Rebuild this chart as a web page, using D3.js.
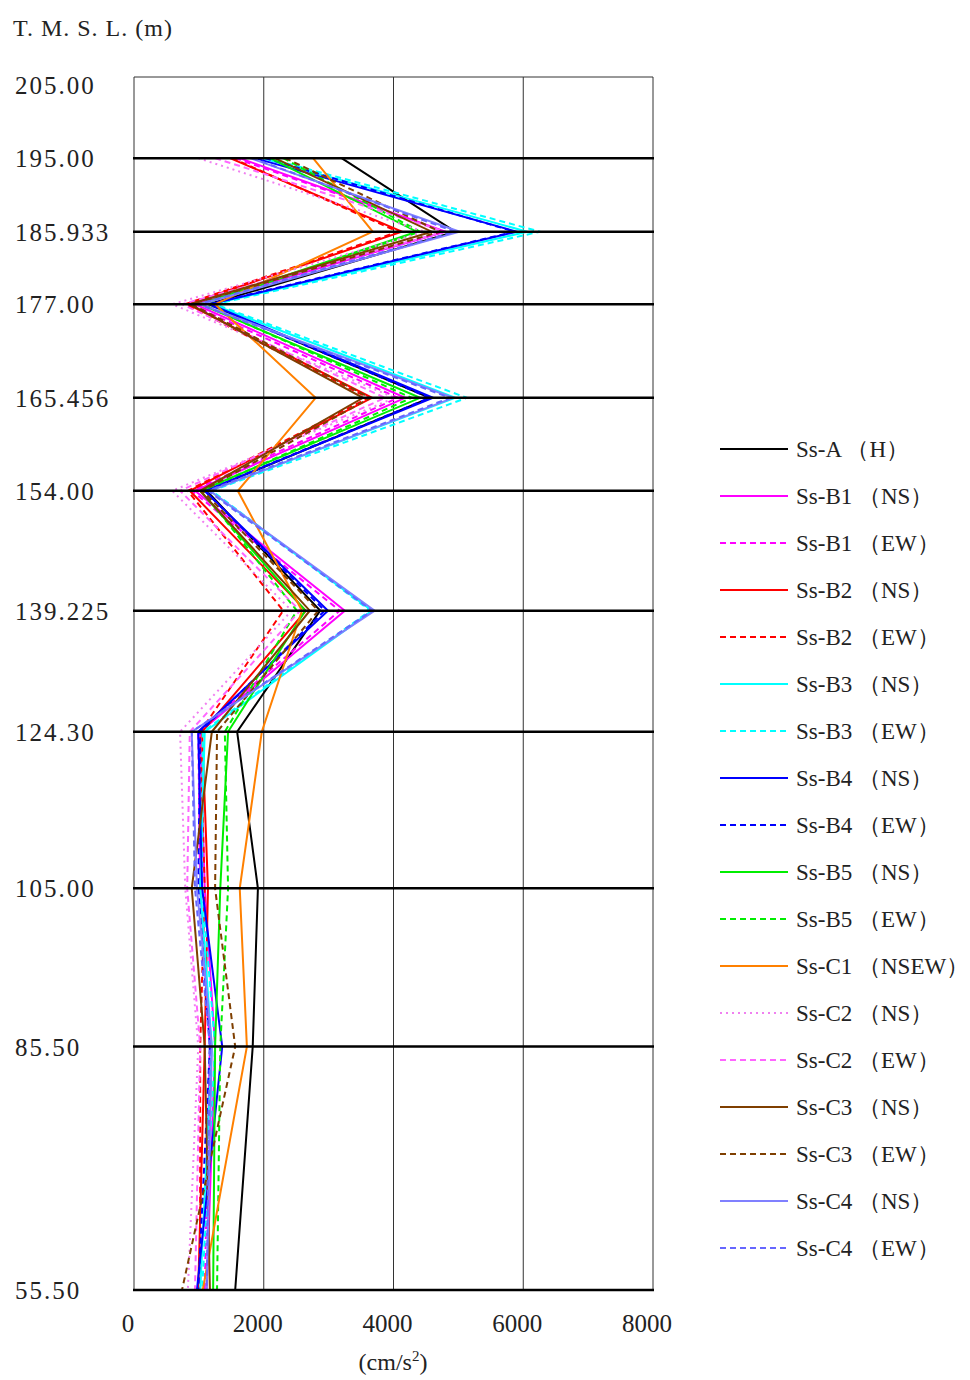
<!DOCTYPE html>
<html>
<head>
<meta charset="utf-8">
<script src="https://cdn.jsdelivr.net/npm/d3@7"></script>
<style>
  body { margin: 0; background: #fff; }
  text { font-family: "Liberation Serif", "DejaVu Serif", serif; fill: #222; }
</style>
</head>
<body>
<div class="chart"></div>
<script>
/** elevation levels (m) */
const levels = [195, 185.933, 177, 165.456, 154, 139.225, 124.3, 105, 85.5, 55.5];
const levelLabels = ['205.00', '195.00', '185.933', '177.00', '165.456', '154.00',
                     '139.225', '124.30', '105.00', '85.50', '55.50'];
const labelLevels = [205, 195, 185.933, 177, 165.456, 154, 139.225, 124.3, 105, 85.5, 55.5];
const xTicks = [0, 2000, 4000, 6000, 8000];

/** series names and max acceleration (cm/s2) at each level */
const names = ['Ss-A （H）', 'Ss-B1 （NS）', 'Ss-B1 （EW）', 'Ss-B2 （NS）', 'Ss-B2 （EW）',
               'Ss-B3 （NS）', 'Ss-B3 （EW）', 'Ss-B4 （NS）', 'Ss-B4 （EW）', 'Ss-B5 （NS）',
               'Ss-B5 （EW）', 'Ss-C1 （NSEW）', 'Ss-C2 （NS）', 'Ss-C2 （EW）', 'Ss-C3 （NS）',
               'Ss-C3 （EW）', 'Ss-C4 （NS）', 'Ss-C4 （EW）'];
const ssA   = [3200, 4950, 1150, 4560, 1120, 2870, 1590, 1910, 1830, 1560];
const b1NS  = [1630, 4800,  940, 4180,  940, 3250, 1020, 1090, 1250, 1120];
const b1EW  = [1560, 4790,  860, 4070,  890, 3170,  990, 1020, 1170, 1090];
const b2NS  = [1480, 4130,  830, 3670,  860, 2650, 1050, 1140, 1090,  990];
const b2EW  = [1510, 4070,  790, 3610,  830, 2300, 1020, 1090, 1020, 1020];
const b3NS  = [1970, 6060, 1200, 4950, 1170, 3670, 1090, 1020, 1200, 1020];
const b3EW  = [2060, 6260, 1250, 5130, 1200, 3640, 1060, 1050, 1250, 1050];
const b4NS  = [1860, 5900, 1170, 4610, 1090, 2990,  990, 1050, 1360,  970];
const b4EW  = [2020, 5870, 1140, 4560, 1090, 2940, 1020,  990, 1170,  990];
const b5NS  = [2100, 4360, 1020, 4410, 1020, 2640, 1450, 1330, 1250, 1220];
const b5EW  = [2300, 4410, 1060, 4280, 1050, 2510, 1400, 1450, 1330, 1280];
const c1    = [2760, 3680, 1250, 2800, 1600, 2590, 1970, 1630, 1740, 1060];
const c2NS  = [ 990, 4480,  590, 4020,  590, 2430,  710,  790,  990,  830];
const c2EW  = [1250, 4790,  740, 3870,  710, 2560,  860,  820, 1020,  940];
const c3NS  = [2170, 4590,  860, 3530, 1020, 2710, 1200,  890, 1090, 1170];
const c3EW  = [2330, 4720,  890, 3640, 1060, 2840, 1280, 1250, 1560,  740];
const c4NS  = [1790, 5020, 1020, 4920, 1170, 3710,  890,  970, 1200, 1120];
const c4EW  = [1820, 4950,  990, 4870, 1140, 3670,  890,  940, 1170, 1120];

const seriesValues = [ssA, b1NS, b1EW, b2NS, b2EW, b3NS, b3EW, b4NS, b4EW,
                      b5NS, b5EW, c1, c2NS, c2EW, c3NS, c3EW, c4NS, c4EW];
const colors = ['#000000', '#ff00ff', '#ff00ff', '#ff0000', '#ff0000', '#00ffff', '#00ffff',
                '#0000ff', '#0000ff', '#00ee00', '#00ee00', '#ff8000', '#f080f0', '#ff66ff',
                '#7f3f00', '#7f3f00', '#8080ff', '#6666ff'];
const dashes = ['none', 'none', '6,4', 'none', '6,4', 'none', '6,4', 'none', '6,4', 'none',
                '6,4', 'none', '2,4', '6,4', 'none', '6,4', 'none', '6,4'];

/** canvas */
let width = 970, height = 1380;
let svg = d3.select('.chart').append('svg')
    .attr('width', width)
    .attr('height', height);

let x = d3.scaleLinear().domain([0, 8000]).range([134, 653]);
let y = d3.scaleLinear().domain([55.5, 205]).range([1290, 77]);

/** frame + vertical grid */
svg.selectAll('.vgrid')
    .data(xTicks)
    .enter()
    .append('line')
    .attr('x1', d => x(d)).attr('x2', d => x(d))
    .attr('y1', y(205)).attr('y2', y(55.5))
    .style('stroke', '#333')
    .style('stroke-width', 1);

svg.append('line')
    .attr('x1', x(0)).attr('x2', x(8000))
    .attr('y1', y(205)).attr('y2', y(205))
    .style('stroke', '#333')
    .style('stroke-width', 1);

/** series lines */
let lineGen = d3.line()
    .x(d => x(d.v))
    .y(d => y(d.h));

seriesValues.forEach(function (vals, i) {
    svg.append('path')
        .datum(vals.map((v, j) => ({ v: v, h: levels[j] })))
        .attr('d', lineGen)
        .attr('fill', 'none')
        .style('stroke', colors[i])
        .style('stroke-width', 2)
        .style('stroke-dasharray', dashes[i]);
});

/** thick level lines */
svg.selectAll('.level')
    .data(levels)
    .enter()
    .append('line')
    .attr('x1', x(0) - 1).attr('x2', x(8000) + 1)
    .attr('y1', d => y(d)).attr('y2', d => y(d))
    .style('stroke', '#000')
    .style('stroke-width', 2.5);

/** y labels */
svg.append('text')
    .attr('x', 13).attr('y', 36)
    .style('font-size', '24px')
    .style('letter-spacing', '1px')
    .text('T. M. S. L. (m)');

svg.selectAll('.ylab')
    .data(labelLevels)
    .enter()
    .append('text')
    .attr('x', 15)
    .attr('y', d => Math.max(y(d) + 9, 94))
    .style('font-size', '25px')
    .style('letter-spacing', '2px')
    .text((d, i) => levelLabels[i]);

/** x labels */
svg.selectAll('.xlab')
    .data(xTicks)
    .enter()
    .append('text')
    .attr('x', d => x(d) - 6)
    .attr('y', 1332)
    .attr('text-anchor', 'middle')
    .style('font-size', '25px')
    .text(d => d);

let unit = svg.append('text')
    .attr('x', 393).attr('y', 1370)
    .attr('text-anchor', 'middle')
    .style('font-size', '24px');
unit.append('tspan').text('(cm/s');
unit.append('tspan').attr('dy', -9).style('font-size', '15px').text('2');
unit.append('tspan').attr('dy', 9).text(')');

/** legend */
let legend = svg.selectAll('.legend')
    .data(names)
    .enter()
    .append('g')
    .attr('transform', (d, i) => 'translate(720,' + (449 + i * 47) + ')');

legend.append('line')
    .attr('x1', 0).attr('x2', 68)
    .attr('y1', 0).attr('y2', 0)
    .style('stroke', (d, i) => colors[i])
    .style('stroke-width', 2)
    .style('stroke-dasharray', (d, i) => dashes[i]);

legend.append('text')
    .attr('x', 76)
    .attr('y', 8)
    .style('font-size', '23px')
    .text(d => d);
</script>
</body>
</html>
